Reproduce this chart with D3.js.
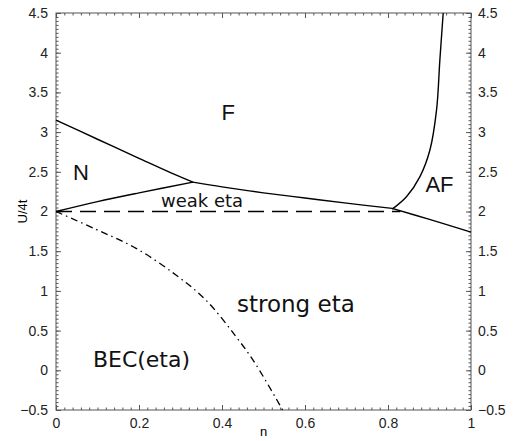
<!DOCTYPE html>
<html>
<head>
<meta charset="utf-8">
<script src="https://cdn.jsdelivr.net/npm/d3@7"></script>
<style>
  body { margin: 0; background: #fff; }
  .tick text { font-family: "Liberation Sans", Arial, sans-serif; font-size: 14px; fill: #222; }
  .tick line { stroke: #555; }
  .domain { display: none; }
</style>
</head>
<body>
<svg id="chart" width="517" height="441"></svg>
<script>
// phase boundaries, [n, U/4t]
var nfLine     = [[0, 3.15], [0.1, 2.91], [0.2, 2.67], [0.28, 2.48], [0.33, 2.37]];
var nWeakLine  = [[0, 2.0], [0.1, 2.125], [0.2, 2.235], [0.33, 2.37]];
var fWeakLine  = [[0.33, 2.37], [0.4, 2.31], [0.5, 2.235], [0.6, 2.17], [0.7, 2.105], [0.81, 2.04]];
var afLowLine  = [[0.81, 2.04], [0.9, 1.9], [1.0, 1.74]];
var fAfLine    = [[0.81, 2.03], [0.845, 2.19], [0.877, 2.44], [0.901, 2.775], [0.917, 3.28], [0.925, 3.91], [0.933, 4.5]];
var weakStrong = [[0, 2.0], [0.83, 2.0]];
var becLine    = [[0, 2.0], [0.096, 1.776], [0.193, 1.536], [0.289, 1.2], [0.361, 0.885], [0.434, 0.423], [0.482, 0.07], [0.546, -0.5]];

var xTicks = [0, 0.2, 0.4, 0.6, 0.8, 1];
var yTicks = [-0.5, 0, 0.5, 1, 1.5, 2, 2.5, 3, 3.5, 4, 4.5];

var phaseLabels = [
  {text: "F", n: 0.415, u: 3.15, size: 22, font: "Liberation Sans"},
  {text: "N", n: 0.06, u: 2.40, size: 22, font: "Liberation Sans"},
  {text: "AF", n: 0.924, u: 2.245, size: 22, font: "Liberation Sans"},
  {text: "weak eta", n: 0.352, u: 2.06, size: 18, font: "DejaVu Sans"},
  {text: "strong eta", n: 0.578, u: 0.74, size: 23, font: "DejaVu Sans"},
  {text: "BEC(eta)", n: 0.206, u: 0.04, size: 22, font: "DejaVu Sans"}
];

var margin = {left: 56, top: 13, right: 46, bottom: 31};
var width = 517 - margin.left - margin.right;
var height = 441 - margin.top - margin.bottom;

var svg = d3.select("#chart").append("g")
    .attr("transform", "translate(" + margin.left + "," + margin.top + ")");

var xScale = d3.scaleLinear().domain([0, 1]).range([0, width]);
var yScale = d3.scaleLinear().domain([-0.5, 4.5]).range([height, 0]);

var fmt = function(d) { return d < 0 ? "\u2212" + Math.abs(d) : d; };

var xMinor = d3.range(0, 1.0001, 0.02);
var yMinor = d3.range(-0.5, 4.5001, 0.05);

// minor ticks
svg.append("g").attr("transform", "translate(0," + height + ")")
   .call(d3.axisBottom(xScale).tickValues(xMinor).tickSize(-2.5).tickFormat(""));
svg.append("g")
   .call(d3.axisTop(xScale).tickValues(xMinor).tickSize(-2.5).tickFormat(""));
svg.append("g")
   .call(d3.axisLeft(yScale).tickValues(yMinor).tickSize(-2.5).tickFormat(""));
svg.append("g").attr("transform", "translate(" + width + ",0)")
   .call(d3.axisRight(yScale).tickValues(yMinor).tickSize(-2.5).tickFormat(""));

// major ticks + labels
svg.append("g").attr("transform", "translate(0," + height + ")")
   .call(d3.axisBottom(xScale).tickValues(xTicks).tickSize(-5).tickPadding(8).tickFormat(fmt));
svg.append("g")
   .call(d3.axisTop(xScale).tickValues(xTicks).tickSize(-5).tickFormat(""));
svg.append("g")
   .call(d3.axisLeft(yScale).tickValues(yTicks).tickSize(-5).tickPadding(8).tickFormat(fmt));
svg.append("g").attr("transform", "translate(" + width + ",0)")
   .call(d3.axisRight(yScale).tickValues(yTicks).tickSize(-5).tickPadding(7).tickFormat(fmt));

svg.append("rect")
   .attr("width", width).attr("height", height)
   .attr("fill", "none").attr("stroke", "#555").attr("stroke-width", 1);

var line = d3.line()
    .curve(d3.curveCatmullRom)
    .x(function(d) { return xScale(d[0]); })
    .y(function(d) { return yScale(d[1]); });

[nfLine, nWeakLine, fWeakLine, afLowLine, fAfLine].forEach(function(pts) {
  svg.append("path").datum(pts)
     .attr("d", line)
     .attr("fill", "none")
     .attr("stroke", "#000")
     .attr("stroke-width", 1.4);
});

svg.append("path").datum(weakStrong)
   .attr("d", line)
   .attr("fill", "none")
   .attr("stroke", "#000")
   .attr("stroke-width", 1.4)
   .attr("stroke-dasharray", "16,8");

svg.append("path").datum(becLine)
   .attr("d", line)
   .attr("fill", "none")
   .attr("stroke", "#000")
   .attr("stroke-width", 1.3)
   .attr("stroke-dasharray", "7,4,1.5,4");

svg.selectAll(".phase").data(phaseLabels).enter()
   .append("text")
   .attr("class", "phase")
   .attr("x", function(d) { return xScale(d.n); })
   .attr("y", function(d) { return yScale(d.u); })
   .attr("text-anchor", "middle")
   .style("font-family", function(d) { return d.font; })
   .style("font-size", function(d) { return d.size + "px"; })
   .attr("fill", "#111")
   .text(function(d) { return d.text; });

// axis titles
svg.append("text")
   .attr("transform", "rotate(-90)")
   .attr("x", -yScale(2))
   .attr("y", -29)
   .attr("text-anchor", "middle")
   .style("font-family", "Liberation Sans")
   .style("font-size", "13px")
   .text("U/4t");

svg.append("text")
   .attr("x", xScale(0.5))
   .attr("y", height + 26)
   .attr("text-anchor", "middle")
   .style("font-family", "Liberation Sans")
   .style("font-size", "13px")
   .text("n");
</script>
</body>
</html>
